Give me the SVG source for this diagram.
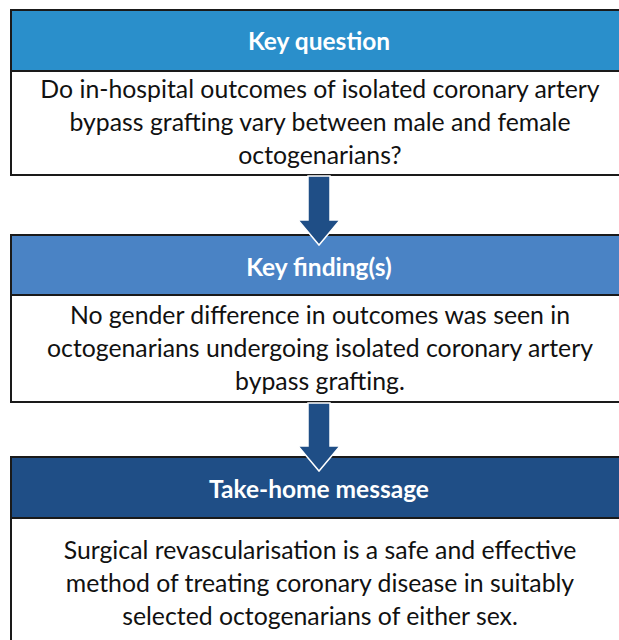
<svg xmlns="http://www.w3.org/2000/svg" width="619" height="640" viewBox="0 0 619 640">
<style>
.box{fill:#fff;stroke:#1a1a1a;stroke-width:2}
.hd{stroke:#1a1a1a;stroke-width:2}
.ht{font-family:Lato,"Open Sans",sans-serif;font-weight:bold;font-size:24.5px;fill:#fff;text-anchor:middle}
.bt{font-family:Lato,"Open Sans",sans-serif;font-size:24.8px;fill:#111;text-anchor:middle}
.arr{fill:#1f4e86;stroke:#fff;stroke-width:1.5}
</style>
<rect width="619" height="640" fill="#fff"/>
<g id="key-question">
<rect class="box" x="11" y="71" width="620" height="104"/>
<rect class="hd" x="11" y="10" width="620" height="61" fill="#2a8fcb"/>
<text class="ht" x="319" y="50">Key question</text>
<text class="bt" x="320" y="98">Do in-hospital outcomes of isolated coronary artery</text>
<text class="bt" x="320" y="131">bypass grafting vary between male and female</text>
<text class="bt" x="320" y="164">octogenarians?</text>
</g>
<g id="key-findings">
<rect class="box" x="11" y="295" width="620" height="107"/>
<rect class="hd" x="11" y="235" width="620" height="60" fill="#4a83c5"/>
<text class="ht" x="319" y="276">Key finding(s)</text>
<text class="bt" x="320" y="324">No gender difference in outcomes was seen in</text>
<text class="bt" x="320" y="357">octogenarians undergoing isolated coronary artery</text>
<text class="bt" x="320" y="390">bypass grafting.</text>
</g>
<g id="take-home">
<rect class="box" x="11" y="518" width="620" height="130"/>
<rect class="hd" x="11" y="457" width="620" height="61" fill="#1f4e86"/>
<text class="ht" x="319" y="498">Take-home message</text>
<text class="bt" x="320" y="559">Surgical revascularisation is a safe and effective</text>
<text class="bt" x="320" y="592">method of treating coronary disease in suitably</text>
<text class="bt" x="320" y="625">selected octogenarians of either sex.</text>
</g>
<g id="connectors">
<path class="arr" d="M308,176 H330 V220 H340 L319,245 L298,220 H308 Z"/>
<path class="arr" d="M308,403 H330 V446 H340 L319,471 L298,446 H308 Z"/>
</g>
</svg>
